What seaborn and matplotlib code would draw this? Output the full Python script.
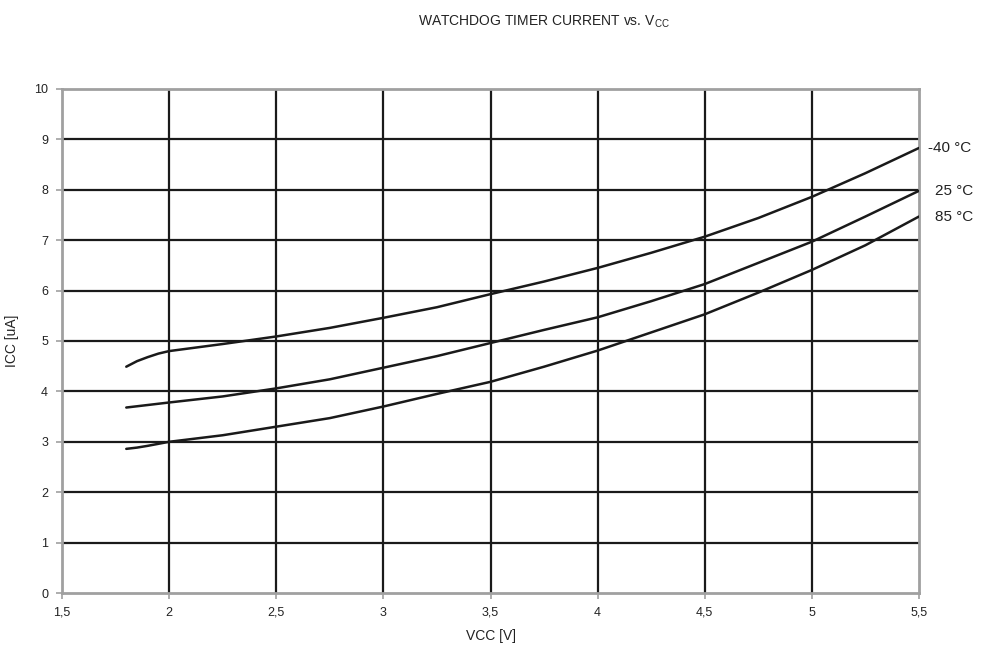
import numpy as np
import pandas as pd
import matplotlib
matplotlib.use("Agg")
import matplotlib.pyplot as plt
import seaborn as sns

vcc = [1.8, 1.85, 1.9, 1.95, 2.0, 2.25, 2.5, 2.75, 3.0, 3.25, 3.5, 3.75, 4.0, 4.25, 4.5, 4.75, 5.0, 5.25, 5.5]
icc_m40 = [4.49, 4.60, 4.68, 4.75, 4.80, 4.94, 5.09, 5.26, 5.46, 5.67, 5.93, 6.18, 6.45, 6.75, 7.07, 7.44, 7.86, 8.33, 8.83]
icc_25 = [3.68, 3.705, 3.73, 3.755, 3.78, 3.90, 4.06, 4.24, 4.47, 4.70, 4.96, 5.22, 5.47, 5.79, 6.13, 6.55, 6.97, 7.47, 7.98]
icc_85 = [2.86, 2.885, 2.92, 2.96, 3.00, 3.13, 3.30, 3.47, 3.70, 3.95, 4.19, 4.49, 4.81, 5.17, 5.53, 5.96, 6.41, 6.90, 7.47]
series_labels = ["-40 °C", "25 °C", "85 °C"]
x_ticks = [1.5, 2, 2.5, 3, 3.5, 4, 4.5, 5, 5.5]
x_tick_labels = ["1,5", "2", "2,5", "3", "3,5", "4", "4,5", "5", "5,5"]
y_ticks = list(range(0, 11))

df = pd.concat([
    pd.DataFrame({"VCC": vcc, "ICC": vals, "T": lab})
    for vals, lab in zip([icc_m40, icc_25, icc_85], series_labels)
])

sns.set_style("white")
plt.rcParams['font.family'] = ['Liberation Sans', 'DejaVu Sans']

fig = plt.figure(figsize=(9.88, 6.49), dpi=100)
ax = fig.add_axes([62/988, 1-593/649, (919-62)/988, (593-89)/649])

sns.lineplot(data=df, x="VCC", y="ICC", hue="T", palette=["#1a1a1a"]*3,
             linewidth=1.8, legend=False, ax=ax, estimator=None, sort=False,
             zorder=3)

ax.set_xlim(1.5, 5.5)
ax.set_ylim(0, 10)
ax.set_xticks(x_ticks)
ax.set_xticklabels(x_tick_labels)
ax.set_yticks(y_ticks)
for xv in x_ticks[1:-1]:
    ax.axvline(xv, color="#1a1a1a", lw=1.6, zorder=1)
for yv in y_ticks[1:-1]:
    ax.axhline(yv, color="#1a1a1a", lw=1.6, zorder=1)
for s in ax.spines.values():
    s.set_color("#a0a0a0")
    s.set_linewidth(2.0)
    s.set_visible(True)
ax.tick_params(axis="both", which="major", length=4, width=1.2, color="#a0a0a0",
               labelsize=9, labelcolor="#222222", direction="out", pad=6,
               bottom=True, left=True)
ax.set_xlabel("VCC [V]", fontsize=10, color="#222222", labelpad=7)
ax.set_ylabel("ICC [uA]", fontsize=10, color="#222222", labelpad=11)

ends = [icc_m40[-1], icc_25[-1], icc_85[-1]]
for yv, lab in zip(ends, series_labels):
    ax.annotate(lab, xy=(5.5, yv), xytext=(6.5 if lab.startswith("-") else 11.5, 0),
                textcoords="offset points", fontsize=11, color="#222222",
                va="center", ha="left", annotation_clip=False)

fig.text(544/988, 1-22/649, r"WATCHDOG TIMER CURRENT vs. V$_{\mathregular{CC}}$",
         ha="center", va="center", fontsize=10, color="#222222")

fig.savefig("out.png", dpi=100)
